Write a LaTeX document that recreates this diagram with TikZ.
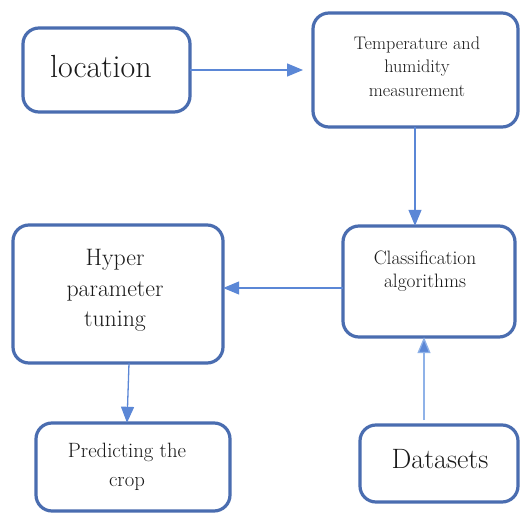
\documentclass[tikz,border=0pt]{standalone}
\usetikzlibrary{arrows.meta}
\definecolor{boxblue}{HTML}{4A6DB0}
\definecolor{linkblue}{HTML}{5B87D6}
\definecolor{lightlink}{HTML}{8FB2E8}
\definecolor{txtgray}{HTML}{1A1A1A}
\tikzset{
  box/.style={draw=boxblue, line width=3.2pt, rounded corners=16pt, fill=white},
  txt/.style={align=center, text=txtgray, inner sep=0pt},
  link/.style={draw=linkblue, line width=1.3pt, -{Triangle[length=16pt,width=13pt]}},
}
\begin{document}
\begin{tikzpicture}[x=1pt,y=-1pt]
\clip (0,0) rectangle (520,513);
\fill[white] (0,0) rectangle (520,513);
% boxes
\path[box] (23,28) rectangle (190,112);
\node[inner sep=0pt, minimum width=167pt, minimum height=84pt] (loc) at (106.5,70) {};
\path[box] (313,13) rectangle (518,127);
\node[inner sep=0pt, minimum width=205pt, minimum height=114pt] (temp) at (415.5,70) {};
\path[box] (343,226) rectangle (515,337);
\node[inner sep=0pt, minimum width=172pt, minimum height=111pt] (class) at (429,281.5) {};
\path[box] (13,225) rectangle (223,363);
\node[inner sep=0pt, minimum width=210pt, minimum height=138pt] (hyper) at (118,294) {};
\path[box] (36,423) rectangle (230,511);
\node[inner sep=0pt, minimum width=194pt, minimum height=88pt] (pred) at (133,467) {};
\path[box] (360,425) rectangle (518,502);
\node[inner sep=0pt, minimum width=158pt, minimum height=77pt] (data) at (439,463.5) {};
% texts
\node[txt, font=\fontsize{32}{36}\selectfont] (locT) at (101,66.5) {location};
\node[txt, font=\fontsize{18.2}{23.5}\selectfont] (tempT) at (417,66.5) {Temperature and\\humidity\\measurement};
\node[txt, font=\fontsize{19.4}{23}\selectfont] (classT) at (425,271.5) {Classification\\algorithms};
\node[txt, font=\fontsize{23.8}{30.5}\selectfont] (hyperT) at (115,290.5) {Hyper\\parameter\\tuning};
\node[txt, font=\fontsize{20.7}{29}\selectfont] (predT) at (127,467) {Predicting the\\crop};
\node[txt, font=\fontsize{28}{34}\selectfont] (dataT) at (440,459) {Datasets};
% connectors
\coordinate (a1) at (303,70);
\draw[link] (loc.east |- a1) -- (a1);
\draw[link] (temp.south -| 415,0) -- (class.north -| 415,0);
\draw[link] (class.west |- 0,288) -- (hyper.east |- 0,288);
\draw[link] ([xshift=11pt]hyper.south) -- ([xshift=-6pt]pred.north);
\coordinate (d1) at (424,420);
\draw[link, draw=lightlink, -{Triangle[length=16pt,width=13pt,fill=linkblue]}] (d1) -- (class.south -| d1);
\end{tikzpicture}
\end{document}
